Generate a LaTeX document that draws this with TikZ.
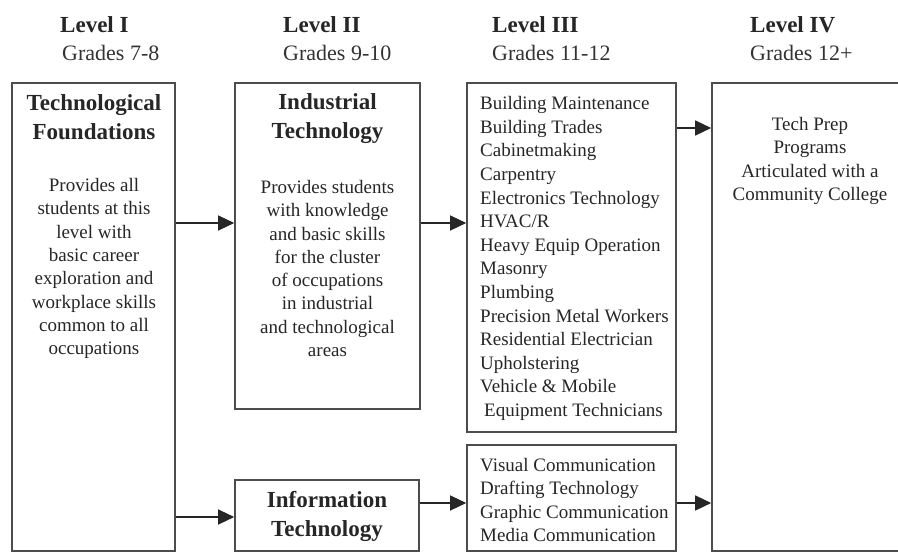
\documentclass[tikz,border=0pt]{standalone}
\usepackage{fontspec}
\setmainfont{Liberation Serif}
\usetikzlibrary{arrows.meta}
\begin{document}
\begin{tikzpicture}[x=1pt,y=-1pt,
  box/.style={draw=black!70, line width=1.6pt, rectangle, inner sep=0pt},
  arr/.style={-{Triangle[length=16pt,width=15pt]}, line width=1.3pt, draw=black!85},
  head/.style={anchor=base west, inner sep=0pt, text=black!85, font=\fontsize{23}{28}\selectfont\bfseries},
  grade/.style={anchor=base west, inner sep=0pt, text=black!80, font=\fontsize{22}{28}\selectfont},
  ttl/.style={align=center, inner sep=0pt, text=black!85, font=\fontsize{23}{29}\selectfont\bfseries},
  body/.style={align=center, inner sep=0pt, text=black!85, font=\fontsize{19}{23.3}\selectfont},
  list/.style={align=left, anchor=west, inner sep=0pt, text=black!85, font=\fontsize{19}{23.6}\selectfont}]
\useasboundingbox (0,0) rectangle (898,560);
\clip (0,0) rectangle (898,560);
\fill[white] (0,0) rectangle (898,560);

% headings
\node[head] (l1) at (60,32) {Level I};
\node[grade] (g1) at (62,60) {Grades 7-8};
\node[head] (l2) at (283,32) {Level II};
\node[grade] (g2) at (283,60) {Grades 9-10};
\node[head] (l3) at (492,32) {Level III};
\node[grade] (g3) at (492,60) {Grades 11-12};
\node[head] (l4) at (750,32) {Level IV};
\node[grade] (g4) at (750,60) {Grades 12+};

% boxes
\node[box, minimum width=163pt, minimum height=468pt] (b1) at (93.5,317) {};
\node[box, minimum width=185pt, minimum height=326pt] (b2) at (327.5,246) {};
\node[box, minimum width=184pt, minimum height=71pt] (bit) at (327,515.5) {};
\node[box, minimum width=209pt, minimum height=349pt] (b3) at (571.5,257.5) {};
\node[box, minimum width=209pt, minimum height=106pt] (b3b) at (571.5,498) {};
\node[box, minimum width=198pt, minimum height=468pt] (b4) at (811,317) {};

% texts
\node[ttl] (t1) at (94,117.5) {Technological\\Foundations};
\node[body] (d1) at (94,268.5) {Provides all\\students at this\\level with\\basic career\\exploration and\\workplace skills\\common to all\\occupations};
\node[ttl] (t2) at (327.5,119) {Industrial\\Technology};
\node[body] (d2) at (327.5,268.5) {Provides students\\with knowledge\\and basic skills\\for the cluster\\of occupations\\in industrial\\and technological\\areas};
\node[ttl] (tit) at (327,516.5) {Information\\Technology};
\node[list] (d3) at (480,258.5) {Building Maintenance\\Building Trades\\Cabinetmaking\\Carpentry\\Electronics Technology\\HVAC/R\\Heavy Equip Operation\\Masonry\\Plumbing\\Precision Metal Workers\\Residential Electrician\\Upholstering\\Vehicle \& Mobile\\\hspace*{4pt}Equipment Technicians};
\node[list] (d3b) at (480,500) {Visual Communication\\Drafting Technology\\Graphic Communication\\Media Communication};
\node[body] (d4) at (810,161) {Tech Prep\\Programs\\Articulated with a\\Community College};

% connector heights
\coordinate (y1) at (0,223);
\coordinate (y2) at (0,517);
\coordinate (y3) at (0,223);
\coordinate (y4) at (0,503);
\coordinate (y5) at (0,128);
\coordinate (y6) at (0,503);

\draw[arr] (b1.east |- y1) -- (b2.west |- y1);
\draw[arr] (b1.east |- y2) -- (bit.west |- y2);
\draw[arr] (b2.east |- y3) -- (b3.west |- y3);
\draw[arr] (bit.east |- y4) -- (b3b.west |- y4);
\draw[arr] (b3.east |- y5) -- (b4.west |- y5);
\draw[arr] (b3b.east |- y6) -- (b4.west |- y6);
\end{tikzpicture}
\end{document}
